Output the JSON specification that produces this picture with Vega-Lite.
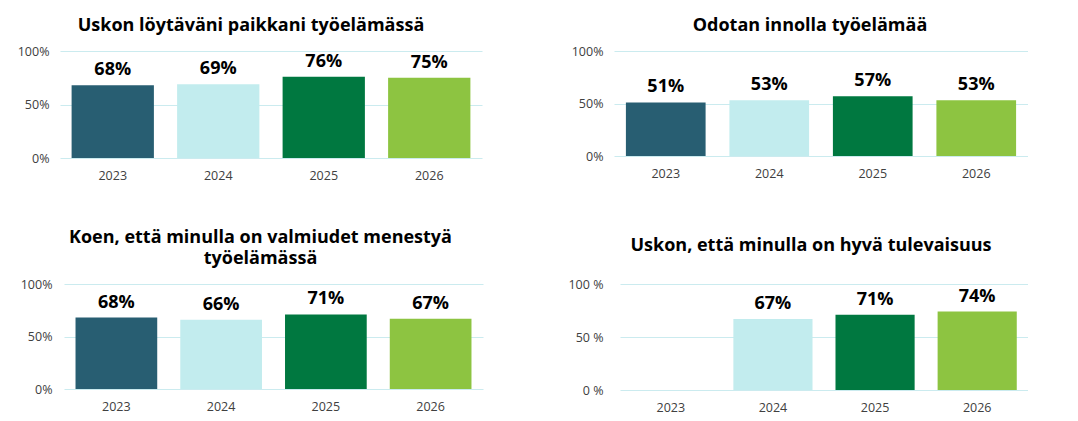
{
  "$schema": "https://vega.github.io/schema/vega-lite/v6.json",
  "padding": {"left": 0, "top": 17, "right": 0, "bottom": 0},
  "datasets": {
    "kysely": [
      {"kysymys": "paikka", "vuosi": "2023", "osuus": 0.68},
      {"kysymys": "paikka", "vuosi": "2024", "osuus": 0.69},
      {"kysymys": "paikka", "vuosi": "2025", "osuus": 0.76},
      {"kysymys": "paikka", "vuosi": "2026", "osuus": 0.75},
      {"kysymys": "innolla", "vuosi": "2023", "osuus": 0.51},
      {"kysymys": "innolla", "vuosi": "2024", "osuus": 0.53},
      {"kysymys": "innolla", "vuosi": "2025", "osuus": 0.57},
      {"kysymys": "innolla", "vuosi": "2026", "osuus": 0.53},
      {"kysymys": "valmiudet", "vuosi": "2023", "osuus": 0.68},
      {"kysymys": "valmiudet", "vuosi": "2024", "osuus": 0.66},
      {"kysymys": "valmiudet", "vuosi": "2025", "osuus": 0.71},
      {"kysymys": "valmiudet", "vuosi": "2026", "osuus": 0.67},
      {"kysymys": "tulevaisuus", "vuosi": "2024", "osuus": 0.67},
      {"kysymys": "tulevaisuus", "vuosi": "2025", "osuus": 0.71},
      {"kysymys": "tulevaisuus", "vuosi": "2026", "osuus": 0.74}
    ]
  },
  "vconcat": [
    {
      "spacing": 72,
      "hconcat": [
        {
          "width": 422,
          "height": 107,
          "title": {"text": "Uskon löytäväni paikkani työelämässä", "dx": -20, "offset": 10},
          "data": {"name": "kysely"},
          "transform": [{"filter": "datum.kysymys == 'paikka'"}],
          "encoding": {
            "x": {"field": "vuosi", "type": "ordinal", "scale": {"domain": ["2023", "2024", "2025", "2026"], "paddingInner": 0.22, "paddingOuter": 0.11}},
            "y": {"field": "osuus", "type": "quantitative", "scale": {"domain": [0, 1]}, "axis": {"values": [0, 0.5, 1], "format": ".0%", "minExtent": 60, "labelPadding": 11}}
          },
          "layer": [
            {"mark": "bar", "encoding": {"color": {"field": "vuosi", "type": "nominal", "scale": {"domain": ["2023", "2024", "2025", "2026"], "range": ["#285E72", "#C2ECEE", "#007840", "#8DC441"]}, "legend": null}}},
            {"mark": {"type": "text", "baseline": "alphabetic", "dy": -10, "fontSize": 18, "fontWeight": "bold", "color": "#000000"}, "encoding": {"text": {"field": "osuus", "type": "quantitative", "format": ".0%"}}}
          ]
        },
        {
          "width": 414,
          "height": 105,
          "title": {"text": "Odotan innolla työelämää", "dx": -11, "offset": 10},
          "data": {"name": "kysely"},
          "transform": [{"filter": "datum.kysymys == 'innolla'"}],
          "encoding": {
            "x": {"field": "vuosi", "type": "ordinal", "scale": {"domain": ["2023", "2024", "2025", "2026"], "paddingInner": 0.23, "paddingOuter": 0.115}},
            "y": {"field": "osuus", "type": "quantitative", "scale": {"domain": [0, 1]}, "axis": {"values": [0, 0.5, 1], "format": ".0%", "minExtent": 60, "labelPadding": 11}}
          },
          "layer": [
            {"mark": "bar", "encoding": {"color": {"field": "vuosi", "type": "nominal", "scale": {"domain": ["2023", "2024", "2025", "2026"], "range": ["#285E72", "#C2ECEE", "#007840", "#8DC441"]}, "legend": null}}},
            {"mark": {"type": "text", "baseline": "alphabetic", "dy": -10, "fontSize": 18, "fontWeight": "bold", "color": "#000000"}, "encoding": {"text": {"field": "osuus", "type": "quantitative", "format": ".0%"}}}
          ]
        }
      ]
    },
    {
      "spacing": 77,
      "hconcat": [
        {
          "width": 423,
          "height": 105,
          "title": {"text": ["Koen, että minulla on valmiudet menestyä", "työelämässä"], "dx": -11, "offset": 10, "lineHeight": 21},
          "data": {"name": "kysely"},
          "transform": [{"filter": "datum.kysymys == 'valmiudet'"}],
          "encoding": {
            "x": {"field": "vuosi", "type": "ordinal", "scale": {"domain": ["2023", "2024", "2025", "2026"], "range": [4, 423], "paddingInner": 0.22, "paddingOuter": 0.11}},
            "y": {"field": "osuus", "type": "quantitative", "scale": {"domain": [0, 1]}, "axis": {"values": [0, 0.5, 1], "format": ".0%", "minExtent": 60, "labelPadding": 8}}
          },
          "layer": [
            {"mark": "bar", "encoding": {"color": {"field": "vuosi", "type": "nominal", "scale": {"domain": ["2023", "2024", "2025", "2026"], "range": ["#285E72", "#C2ECEE", "#007840", "#8DC441"]}, "legend": null}}},
            {"mark": {"type": "text", "baseline": "alphabetic", "dy": -10, "fontSize": 18, "fontWeight": "bold", "color": "#000000"}, "encoding": {"text": {"field": "osuus", "type": "quantitative", "format": ".0%"}}}
          ]
        },
        {
          "width": 408,
          "height": 106,
          "title": {"text": "Uskon, että minulla on hyvä tulevaisuus", "dx": -13, "offset": 23},
          "data": {"name": "kysely"},
          "transform": [{"filter": "datum.kysymys == 'tulevaisuus'"}],
          "encoding": {
            "x": {"field": "vuosi", "type": "ordinal", "scale": {"domain": ["2023", "2024", "2025", "2026"], "paddingInner": 0.225, "paddingOuter": 0.11}},
            "y": {"field": "osuus", "type": "quantitative", "scale": {"domain": [0, 1]}, "axis": {"values": [0, 0.5, 1], "labelExpr": "round(datum.value * 100) + ' %'", "minExtent": 60, "labelPadding": 17}}
          },
          "layer": [
            {"mark": "bar", "encoding": {"color": {"field": "vuosi", "type": "nominal", "scale": {"domain": ["2023", "2024", "2025", "2026"], "range": ["#285E72", "#C2ECEE", "#007840", "#8DC441"]}, "legend": null}}},
            {"mark": {"type": "text", "baseline": "alphabetic", "dy": -10, "fontSize": 18, "fontWeight": "bold", "color": "#000000"}, "encoding": {"text": {"field": "osuus", "type": "quantitative", "format": ".0%"}}}
          ]
        }
      ]
    }
  ],
  "spacing": 47,
  "config": {
    "font": "Open Sans",
    "view": {"stroke": null},
    "title": {"fontSize": 18, "fontWeight": "bold", "color": "#000000", "anchor": "middle", "frame": "group", "baseline": "alphabetic", "font": "Open Sans"},
    "axis": {"domain": false, "ticks": false, "title": null, "labelFont": "Open Sans", "labelFontSize": 12.5, "labelColor": "#404040", "gridColor": "#CBEBEF", "gridWidth": 1},
    "axisX": {"grid": false, "labelAngle": 0, "labelPadding": 11, "labelBaseline": "top"},
    "axisY": {"grid": true}
  }
}
